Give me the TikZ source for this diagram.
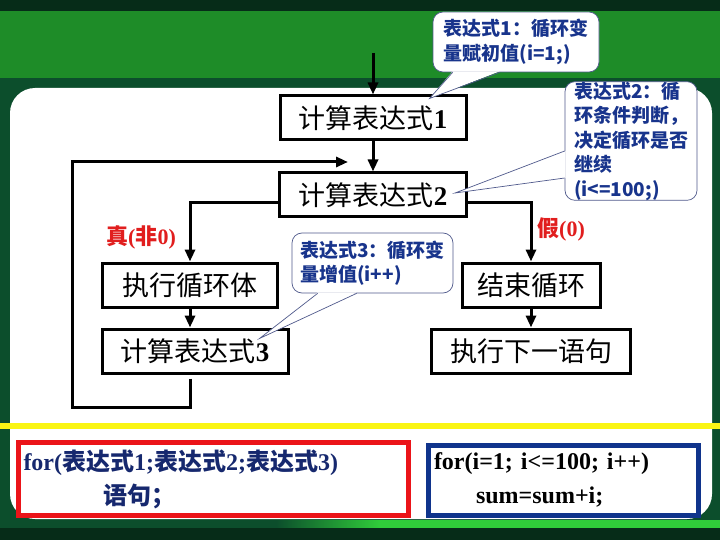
\documentclass[tikz,border=0pt]{standalone}
\usepackage{fontspec}
\setmainfont{Liberation Serif}
\newfontfamily\cjk{Noto Sans CJK SC}
\newcommand{\zh}[1]{{\cjk #1}}
\usetikzlibrary{arrows.meta,calc}
\definecolor{slidegreen}{RGB}{12, 78, 44}
\definecolor{slidedark}{RGB}{6, 44, 24}
\definecolor{bandgreen}{RGB}{30, 140, 40}
\definecolor{bandlight}{RGB}{48, 205, 58}
\definecolor{slideyellow}{RGB}{250, 245, 20}
\definecolor{notenavy}{RGB}{24, 52, 140}
\definecolor{noteline}{RGB}{80, 90, 140}
\definecolor{labelred}{RGB}{225, 30, 30}
\definecolor{boxred}{RGB}{235, 20, 25}
\definecolor{boxblue}{RGB}{16, 52, 140}
\definecolor{codenavy}{RGB}{22, 40, 110}

\begin{document}
\begin{tikzpicture}[x=1pt, y=-1pt,
    stepbox/.style={draw, line width=3pt, fill=white, inner sep=0pt, font=\fontsize{27}{30}\selectfont},
    flow/.style={line width=3pt, -{Triangle[length=12pt,width=10pt]}},
    note/.style={draw=noteline, line width=0.7pt, fill=white, rounded corners=10pt, inner sep=0pt, align=left, text=notenavy, font=\cjk\bfseries\fontsize{19}{24.5}\selectfont},
    tail/.style={draw=noteline, line width=0.7pt},
    caselabel/.style={text=labelred, font=\bfseries\fontsize{22}{24}\selectfont},
    codebox/.style={line width=5pt, fill=white, align=left, inner ysep=0pt, font=\bfseries\fontsize{24}{34}\selectfont}]
    \useasboundingbox (0,0) rectangle (720,540);

    % Background
    \fill[slidegreen] (0,0) rectangle (720,540);
    \fill[slidedark] (0,0) rectangle (720,12);
    \shade[left color=bandgreen, middle color=bandlight, right color=bandgreen] (0,12) rectangle (720,78);
    \fill[white, rounded corners=25pt] (10,88) rectangle (712,519);
    \fill[slideyellow] (0,423) rectangle (720,429);
    \shade[left color=slidegreen, right color=bandlight] (276,520) rectangle (380,528);
    \fill[bandlight] (380,520) rectangle (720,528);
    \fill[slidedark] (0,528) rectangle (720,540);

    % Steps
    \node[stepbox, minimum width=186pt, minimum height=44pt] (calc1) at (373,118) {\zh{计算表达式}\textbf{1}};
    \node[stepbox, minimum width=187pt, minimum height=44pt] (calc2) at (373,195) {\zh{计算表达式}\textbf{2}};
    \node[stepbox, minimum width=175pt, minimum height=44pt] (body) at (190,285) {\zh{执行循环体}};
    \node[stepbox, minimum width=186pt, minimum height=44pt] (calc3) at (195,351) {\zh{计算表达式}\textbf{3}};
    \node[stepbox, minimum width=138pt, minimum height=44pt] (endloop) at (531,285) {\zh{结束循环}};
    \node[stepbox, minimum width=199pt, minimum height=44pt] (nextstmt) at (531,351) {\zh{执行下一语句}};

    % Branch labels
    \node[caselabel] (truelabel) at (141,237) {\zh{真}(\zh{非}0)};
    \node[caselabel] (falselabel) at (561,229) {\zh{假}(0)};

    % Connections
    \coordinate (start) at (373,53);
    \coordinate (loopcorner) at (72,407);
    \coordinate (loopin) at (348,162);
    \draw[flow] (start) -- (calc1);
    \draw[flow] (calc1) -- (calc2);
    \draw[flow] ($(calc2.west)+(0,8)$) -| (body.north);
    \draw[flow] ($(calc2.east)+(0,8)$) -| (endloop.north);
    \draw[flow] (body.south) -- (body.south |- calc3.north);
    \draw[flow] (endloop) -- (nextstmt);
    \draw[flow] ($(calc3.south -| body.south)+(0,4)$) |- (loopcorner) |- (loopin);

    % Notes
    \node[note, minimum width=166pt, minimum height=60pt] (note1) at (516,42) {表达式1：循环变\\量赋初值(i=1;)};
    \node[note, minimum width=132pt, minimum height=112pt] (note2) at (631,141) {表达式2：循\\环条件判断，\\决定循环是否\\继续\\(i<=100;)};
    \node[note, minimum width=161pt, minimum height=60pt] (note3) at (372.5,263) {表达式3：循环变\\量增值(i++)};

    \coordinate (tip1) at ($(calc1.north east)+(-38,4)$);
    \coordinate (tip2) at ($(calc2.east)+(-13,-2)$);
    \coordinate (tip3) at ($(calc3.north east)+(-30,11)$);
    \fill[white] ($(note1.south west)+(20,-1)$) -- (tip1) -- ($(note1.south west)+(67,-1)$) -- cycle;
    \draw[tail] ($(note1.south west)+(20,0)$) -- (tip1) -- ($(note1.south west)+(67,0)$);
    \fill[white] ($(note2.west)+(1,10)$) -- (tip2) -- ($(note2.west)+(1,37)$) -- cycle;
    \draw[tail] ($(note2.west)+(0,10)$) -- (tip2) -- ($(note2.west)+(0,37)$);
    \fill[white] ($(note3.south west)+(26,-1)$) -- (tip3) -- ($(note3.south west)+(65,-1)$) -- cycle;
    \draw[tail] ($(note3.south west)+(26,0)$) -- (tip3) -- ($(note3.south west)+(65,0)$);

    % Code boxes
    \node[codebox, draw=boxred, text=codenavy, inner xsep=5pt, text width=380pt, minimum height=73pt] (general) at (213.5,479)
        {for(\zh{表达式}1;\zh{表达式}2;\zh{表达式}3)\\ \hspace*{80pt}\zh{语句；}};
    \node[codebox, draw=boxblue, text=black, inner xsep=6pt, text width=258pt, minimum height=70pt] (sample) at (563,480)
        {for(i=1; i<=100; i++)\\ \hspace*{42pt}sum=sum+i;};
\end{tikzpicture}
\end{document}
